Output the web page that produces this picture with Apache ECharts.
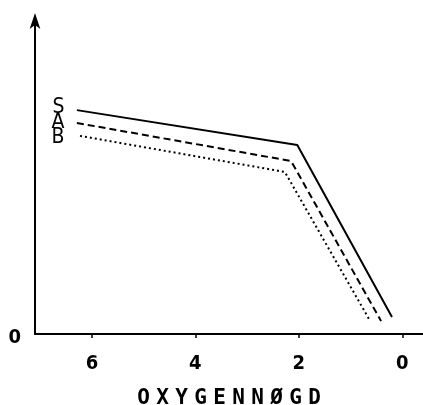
<!DOCTYPE html>
<html>
<head>
<meta charset="utf-8">
<script src="https://cdn.jsdelivr.net/npm/echarts@6/dist/echarts.min.js"></script>
<style>html,body{margin:0;padding:0;background:#fff}#c{width:423px;height:405px}</style>
</head>
<body>
<div id="c"></div>
<script>
// Data (x = oxygen amount, y = relative level)
var seriesNames = ['S', 'A', 'B'];
var sX = [6.29, 2.03, 0.20];
var sY = [71.3, 60.2, 5.4];
var aX = [6.29, 2.15, 0.41];
var aY = [67.2, 55.1, 4.1];
var bX = [6.23, 2.27, 0.62];
var bY = [63.1, 51.6, 4.1];
var xTicks = [6, 4, 2, 0];
var yTicks = [0];
var xTitle = 'OXYGENNØGD';

function mk(xs, ys, name) {
  var off = { S: [0, -3], A: [0, 0], B: [0, 2] }[name];
  return xs.map(function (x, i) {
    var item = { value: [x, ys[i]] };
    if (i === 0) {
      item.label = { show: true, formatter: name, position: 'left', distance: name === 'B' ? 15 : 12,
        offset: off, color: '#000', fontFamily: 'DejaVu Sans Condensed, DejaVu Sans', fontSize: 21 };
    }
    return item;
  });
}
var titleRich = xTitle.split('').map(function (ch) { return '{c|' + ch + '}'; }).join('');

var chart = echarts.init(document.getElementById('c'), null, { renderer: 'canvas' });
var lineTypes = ['solid', [7, 4], [2, 3]];
var datas = [mk(sX, sY, 'S'), mk(aX, aY, 'A'), mk(bX, bY, 'B')];
chart.setOption({
  animation: false,
  backgroundColor: '#fff',
  grid: { left: 35, right: 0, top: 20, bottom: 71, containLabel: false, outerBoundsMode: 'none' },
  xAxis: {
    type: 'value', inverse: true, min: -0.4, max: 7.1,
    splitLine: { show: false },
    axisLine: { lineStyle: { color: '#000', width: 2 } },
    axisTick: { show: true, customValues: xTicks, length: 4, inside: false, lineStyle: { color: '#000', width: 1.5 } },
    axisLabel: { customValues: xTicks, margin: 20, color: '#000', fontFamily: 'DejaVu Sans Condensed, DejaVu Sans', fontWeight: 'bold', fontSize: 20 },
    name: titleRich, nameLocation: 'middle', nameGap: 54,
    nameTextStyle: { rich: { c: { width: 19, align: 'center', fontFamily: 'DejaVu Sans Mono', fontWeight: 'bold', fontSize: 21, color: '#000' } } }
  },
  yAxis: {
    type: 'value', min: 0, max: 100, position: 'left',
    splitLine: { show: false },
    axisLine: { show: true, onZero: false, symbol: ['none', 'arrow'], symbolSize: [8, 16], symbolOffset: [0, 7], lineStyle: { color: '#000', width: 2 } },
    axisTick: { show: false },
    axisLabel: { customValues: yTicks, margin: 14, formatter: '{p|{value}}',
      rich: { p: { padding: [8, 0, 0, 0], color: '#000', fontFamily: 'DejaVu Sans Condensed, DejaVu Sans', fontWeight: 'bold', fontSize: 20 } } }
  },
  series: datas.map(function (d, i) {
    return {
      type: 'line', name: seriesNames[i], data: d, symbol: 'circle', symbolSize: 1, showSymbol: true,
      itemStyle: { color: 'rgba(0,0,0,0)' },
      lineStyle: { color: '#000', width: 2, type: lineTypes[i] }
    };
  })
});
</script>
</body>
</html>
